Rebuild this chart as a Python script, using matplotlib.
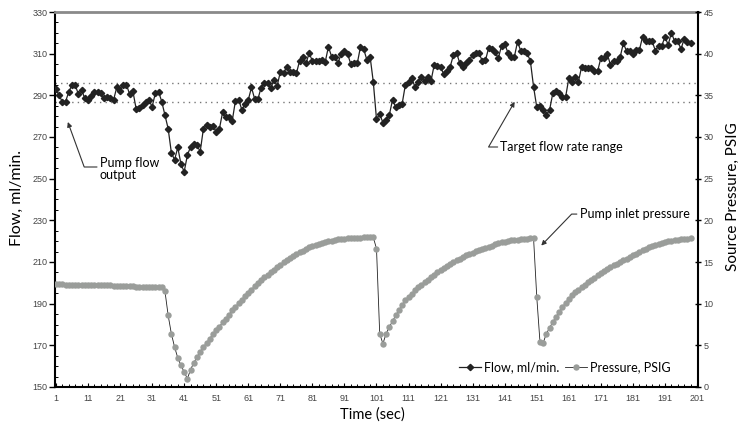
import numpy as np
import matplotlib
matplotlib.use('Agg')
import matplotlib.pyplot as plt
from matplotlib.ticker import FixedLocator, MultipleLocator

# time axis, one sample per second
seconds = np.arange(1, 200)

# pump flow output, ml/min
flow = [
    292.9, 290.0, 286.8, 287.0, 291.7, 295.0, 295.0, 290.5, 292.5, 288.5,
    288.0, 289.5, 291.5, 291.5, 291.0, 288.5, 289.0, 288.5, 288.0, 294.0,
    292.0, 295.0, 295.0, 290.5, 292.0, 283.6, 284.0, 285.5, 287.0, 287.8,
    284.5, 291.0, 291.8, 287.0, 280.5, 274.0, 262.5, 259.0, 265.0, 257.0,
    253.3, 261.3, 265.3, 266.5, 266.0, 263.0, 274.0, 275.8, 275.0, 275.5,
    272.3, 274.0, 282.0, 279.5, 279.5, 277.8, 287.5, 288.0, 283.0, 286.0,
    287.8, 293.8, 288.2, 288.2, 293.7, 295.9, 295.9, 293.4, 297.4, 294.5,
    301.3, 300.6, 303.8, 301.0, 301.0, 300.5, 306.5, 308.2, 305.4, 310.2,
    306.5, 306.3, 306.5, 307.0, 306.0, 313.3, 308.6, 308.2, 305.7, 309.8,
    311.4, 309.8, 304.9, 305.7, 305.3, 313.3, 312.2, 307.0, 308.6, 296.4,
    278.5, 281.0, 276.9, 278.2, 280.6, 287.8, 284.3, 285.3, 285.9, 295.0,
    296.5, 298.2, 294.1, 296.5, 298.6, 296.9, 298.6, 296.9, 304.6, 304.2,
    303.4, 300.2, 301.8, 303.8, 309.4, 310.2, 305.4, 303.8, 305.5, 307.0,
    309.4, 310.3, 310.2, 306.5, 306.8, 312.9, 312.1, 310.6, 307.8, 313.7,
    314.6, 310.5, 308.4, 308.4, 315.8, 311.3, 311.3, 310.2, 306.5, 294.1,
    284.3, 284.9, 283.0, 280.6, 283.0, 291.0, 292.2, 291.0, 289.2, 289.2,
    298.2, 296.5, 299.0, 296.5, 303.8, 303.0, 303.0, 303.0, 301.7, 301.7,
    307.9, 307.9, 309.8, 304.6, 306.3, 306.3, 308.2, 315.0, 311.3, 311.3,
    309.8, 311.6, 311.6, 318.1, 316.0, 316.0, 316.0, 311.4, 313.8, 313.8,
    318.1, 314.2, 320.1, 315.9, 315.9, 312.2, 317.2, 315.8, 315.0,
]

# source (inlet) pressure, PSIG
pressure = [
    12.35, 12.35, 12.35, 12.3, 12.3, 12.3, 12.3, 12.3, 12.25, 12.25,
    12.25, 12.25, 12.25, 12.2, 12.2, 12.2, 12.2, 12.2, 12.15, 12.15,
    12.1, 12.1, 12.1, 12.1, 12.1, 12.05, 12.05, 12.05, 12.0, 12.0,
    12.0, 12.0, 12.0, 11.95, 11.5, 8.6, 6.4, 4.8, 3.5, 2.6,
    1.8, 1.0, 2.1, 2.9, 3.6, 4.2, 4.8, 5.3, 5.8, 6.4,
    6.8, 7.2, 7.8, 8.2, 8.7, 9.2, 9.6, 10.1, 10.5, 10.9,
    11.3, 11.7, 12.1, 12.5, 12.9, 13.2, 13.5, 13.8, 14.1, 14.4,
    14.7, 14.95, 15.25, 15.5, 15.75, 15.95, 16.15, 16.35, 16.6, 16.75,
    16.9, 17.05, 17.2, 17.33, 17.42, 17.5, 17.58, 17.65, 17.72, 17.77,
    17.8, 17.83, 17.86, 17.89, 17.92, 17.93, 17.94, 17.95, 17.96, 17.96,
    16.6, 6.4, 5.2, 6.4, 7.2, 7.9, 8.6, 9.2, 9.8, 10.4,
    10.8, 11.2, 11.6, 11.95, 12.3, 12.6, 12.9, 13.2, 13.5, 13.8,
    14.05, 14.3, 14.55, 14.8, 15.0, 15.2, 15.4, 15.6, 15.8, 15.95,
    16.1, 16.3, 16.45, 16.6, 16.7, 16.85, 16.95, 17.1, 17.25, 17.35,
    17.45, 17.55, 17.6, 17.65, 17.7, 17.75, 17.8, 17.82, 17.85, 17.85,
    10.8, 5.4, 5.3, 6.4, 7.1, 7.8, 8.4, 9.0, 9.6, 10.1,
    10.55, 11.0, 11.35, 11.7, 12.0, 12.3, 12.6, 12.85, 13.1, 13.4,
    13.65, 13.9, 14.15, 14.4, 14.6, 14.8, 15.0, 15.2, 15.4, 15.6,
    15.8, 16.0, 16.2, 16.4, 16.6, 16.75, 16.9, 17.05, 17.2, 17.3,
    17.4, 17.5, 17.58, 17.65, 17.7, 17.75, 17.8, 17.82, 17.85,
]

# target flow rate band
target_low = 287
target_high = 296

x_ticks = list(range(1, 202, 10))
flow_ticks = list(range(150, 331, 20))
pressure_ticks = list(range(0, 46, 5))

tick_font = dict(family='Liberation Sans', size=6.5, color='#444444')
label_font = ['Lato', 'DejaVu Sans']

fig = plt.figure(figsize=(7.41, 4.28), dpi=100)
ax = fig.add_axes([55 / 741, 41 / 428, 643 / 741, 375 / 428])
ax2 = ax.twinx()

# flow on the left axis
flow_line, = ax.plot(seconds, flow, color='#222222', lw=0.9, marker='D',
                     ms=3.2, mec='#222222', mfc='#222222',
                     label='Flow, ml/min.', zorder=3)
for lvl in (target_low, target_high):
    ax.axhline(lvl, color='#777777', lw=1, ls=(0, (1, 3)), zorder=2)

# pressure on the right axis
press_line, = ax2.plot(seconds, pressure, color='#222222', lw=0.6, marker='o',
                       ms=4.6, mfc='#9a9d9a', mec='#9a9d9a', mew=0,
                       label='Pressure, PSIG', zorder=3)

ax.set_xlim(0.7, 201.3)
ax.set_ylim(150, 330)
ax2.set_ylim(0, 45)

ax.xaxis.set_major_locator(FixedLocator(x_ticks))
ax.xaxis.set_minor_locator(FixedLocator(list(range(1, 202, 2))))
ax.yaxis.set_major_locator(FixedLocator(flow_ticks))
ax.yaxis.set_minor_locator(MultipleLocator(5))
ax2.yaxis.set_major_locator(FixedLocator(pressure_ticks))

ax.tick_params(axis='x', which='major', direction='in', length=3, width=0.8, pad=5)
ax.tick_params(axis='x', which='minor', direction='in', length=2, width=0.7)
ax.tick_params(axis='y', which='major', direction='out', length=4, width=1, pad=1.5)
ax.tick_params(axis='y', which='minor', direction='in', length=2, width=0.7)
ax2.tick_params(axis='y', which='major', direction='inout', length=5, width=1, pad=1.5)
for lab in ax.get_xticklabels() + ax.get_yticklabels() + ax2.get_yticklabels():
    lab.set_fontfamily(tick_font['family'])
    lab.set_fontsize(tick_font['size'])
    lab.set_color(tick_font['color'])

for sp in ('left', 'bottom'):
    ax.spines[sp].set_linewidth(1.5)
    ax.spines[sp].set_color('black')
ax.spines['right'].set_visible(False)
ax.spines['top'].set_color('#8a8a8a')
ax.spines['top'].set_linewidth(2)
ax2.spines['right'].set_linewidth(1.5)
ax2.spines['right'].set_color('black')
ax2.spines['left'].set_visible(False)
ax2.spines['top'].set_visible(False)
ax2.spines['bottom'].set_visible(False)

# axis titles placed in figure pixels
fig.text(17 / 741, 1 - 198 / 428, 'Flow, ml/min.', family=label_font,
         fontsize=11.5, rotation=90, ha='center', va='center')
fig.text(733 / 741, 1 - 197 / 428, 'Source Pressure, PSIG', family=label_font,
         fontsize=11, rotation=90, ha='center', va='center')
fig.text(372 / 741, 1 - 415 / 428, 'Time (sec)', family=label_font,
         fontsize=10.5, ha='center', va='center')

# callouts
arrow = dict(arrowstyle='-|>', color='#333333', lw=0.8, mutation_scale=7,
             shrinkA=0, shrinkB=0)
ax.annotate('', xy=(4.7, 277.2), xytext=(13.8, 255.6),
            arrowprops=dict(arrow, connectionstyle='angle,angleA=0,angleB=110,rad=0'))
ax.text(14.7, 254.6, 'Pump flow\noutput', family=label_font, fontsize=9,
        ha='left', va='center', linespacing=1.0)

ax.annotate('', xy=(144.1, 286.9), xytext=(138.8, 265.2),
            arrowprops=dict(arrow, connectionstyle='angle,angleA=0,angleB=60,rad=0'))
ax.text(139.4, 265.2, 'Target flow rate range', family=label_font, fontsize=9,
        ha='left', va='center')

ax.annotate('', xy=(152.4, 217.9), xytext=(163.5, 233.0),
            arrowprops=dict(arrow, connectionstyle='angle,angleA=0,angleB=46,rad=0'))
ax.text(164.4, 233.0, 'Pump inlet pressure', family=label_font, fontsize=9,
        ha='left', va='center')

ax2.legend([flow_line, press_line], ['Flow, ml/min.', 'Pressure, PSIG'],
           loc='center right', bbox_to_anchor=(0.958, 0.053), ncol=2,
           frameon=False, prop=dict(family=label_font, size=9),
           handlelength=1.8, handletextpad=0.25, columnspacing=0.4,
           borderpad=0, borderaxespad=0)

fig.savefig('out.png', dpi=100)
